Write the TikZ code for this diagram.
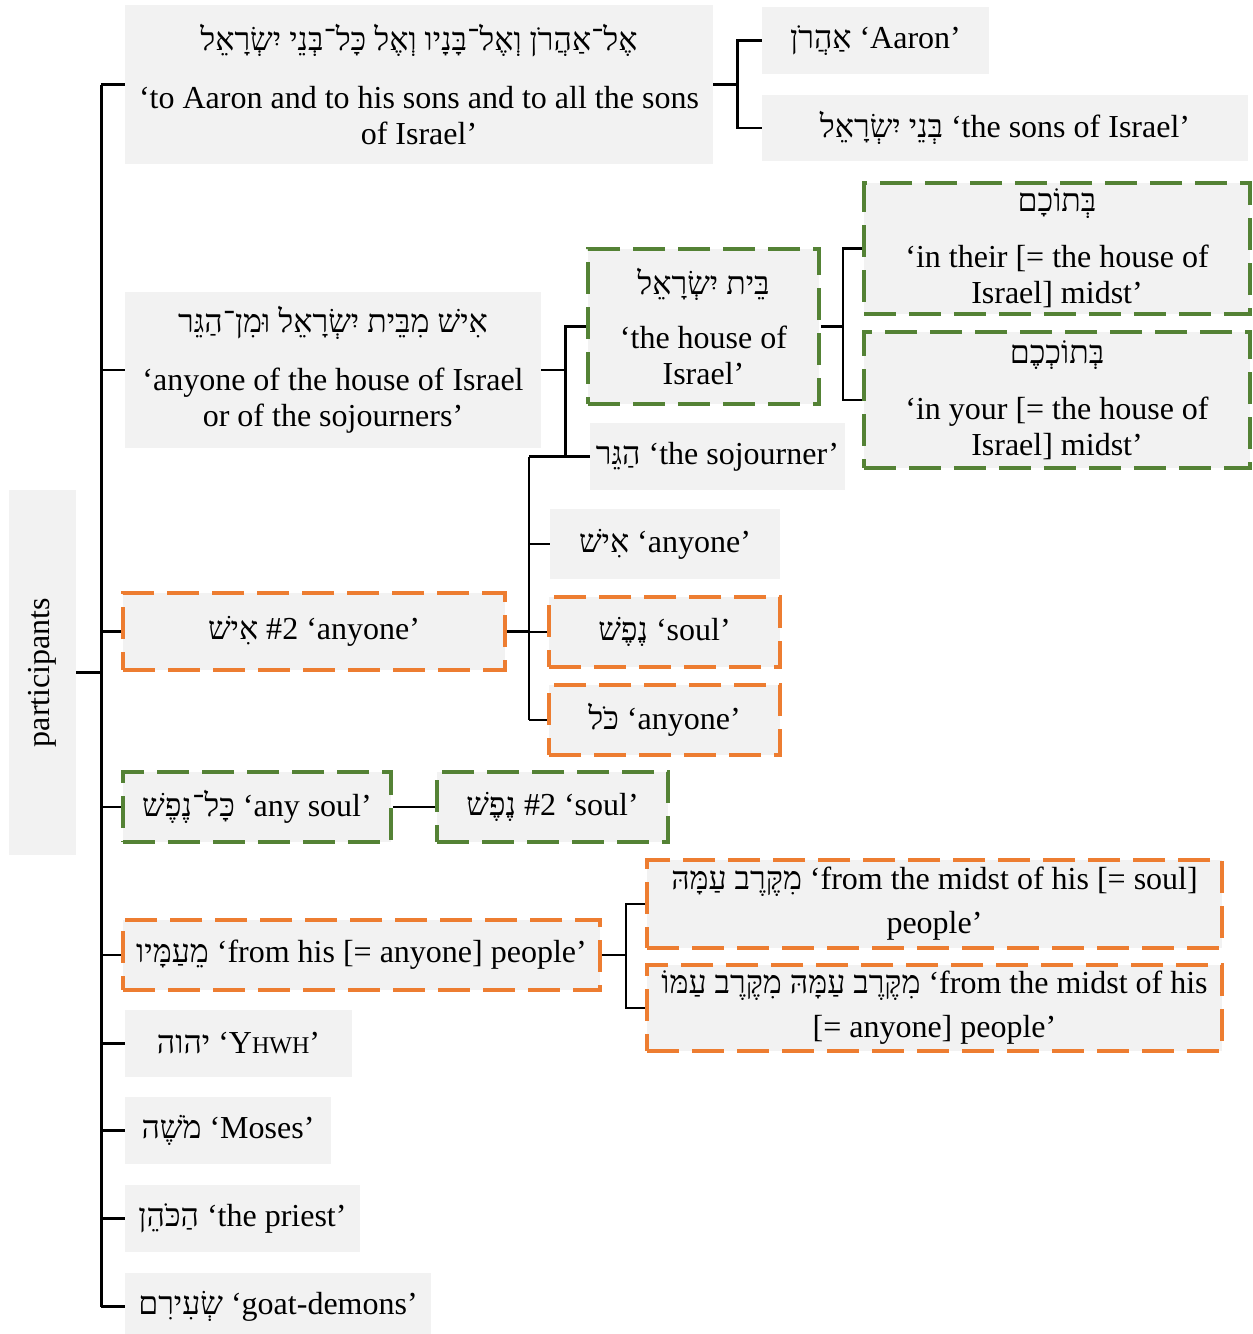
\documentclass[tikz,border=0pt]{standalone}
\usepackage{fontspec}
\usepackage{graphicx}
\setmainfont{Liberation Serif}
\newfontfamily\hebfont[Script=Hebrew]{Liberation Serif}
\TeXXeTstate=1
\newcommand{\hb}[1]{{\hebfont\beginR#1\endR}}
\definecolor{boxgray}{HTML}{F2F2F2}
\definecolor{dgreen}{HTML}{548235}
\definecolor{dorange}{HTML}{ED7D31}
\tikzset{
  entry/.style={fill=boxgray, inner sep=0pt, align=center,
    font=\fontsize{16pt}{18pt}\selectfont},
  sz/.style 2 args={minimum width=#1*0.5pt, minimum height=#2*0.5pt},
  dashbox/.style={entry, draw=#1, line width=1.9pt, dash pattern=on 16pt off 6.5pt},
  conn/.style={line width=1.4pt, black},
}
\begin{document}
\begin{tikzpicture}[x=0.5pt,y=-0.5pt]
\useasboundingbox (0,0) rectangle (1253,1334);

% root
\node[entry, sz={67}{365}] (root) at (42.5,672.5) {\rotatebox{90}{participants}};

% first level
\node[entry, sz={588}{159}] (top) at (419,84.5)
  {\hb{אֶל־אַהֲרֹן וְאֶל־בָּנָיו וְאֶל כָּל־בְּנֵי יִשְׂרָאֵל}\\[11pt]
   ‘to Aaron and to his sons and to all the sons\\of Israel’};
\node[entry, sz={416}{156}] (isrsoj) at (333,370)
  {\hb{אִישׁ מִבֵּית יִשְׂרָאֵל וּמִן־הַגֵּר}\\[11pt]
   ‘anyone of the house of Israel\\or of the sojourners’};
\node[dashbox=dorange, sz={382}{77}] (ish2) at (314,631.5) {\hb{אִישׁ} \#2 ‘anyone’};
\node[dashbox=dgreen, sz={268}{70}] (kolnef) at (257,807) {\hb{כָּל־נֶפֶשׁ} ‘any soul’};
\node[dashbox=dorange, sz={477}{70}] (meamav) at (361.5,955) {\hb{מֵעַמָּיו} ‘from his [= anyone] people’};
\node[entry, sz={227}{67}] (yhwh) at (238.5,1043.5) {\hb{יהוה} ‘Y{\fontsize{12pt}{14pt}\selectfont HWH}’};
\node[entry, sz={206}{67}] (moshe) at (228,1130.5) {\hb{מֹשֶׁה} ‘Moses’};
\node[entry, sz={235}{67}] (kohen) at (242.5,1218.5) {\hb{הַכֹּהֵן} ‘the priest’};
\node[entry, sz={306}{67}] (seirim) at (278,1306.5) {\hb{שְׂעִירִם} ‘goat-demons’};

% second level
\node[entry, sz={227}{67}] (aaron) at (875.5,40.5) {\hb{אַהֲרֹן} ‘Aaron’};
\node[entry, sz={486}{66}] (sons) at (1005,128) {\hb{בְּנֵי יִשְׂרָאֵל} ‘the sons of Israel’};
\node[dashbox=dgreen, sz={231}{155}] (beit) at (703.5,326.5)
  {\hb{בֵּית יִשְׂרָאֵל}\\[9pt]‘the house of\\Israel’};
\node[entry, sz={255}{67}] (soj) at (717.5,456.5) {\hb{הַגֵּר} ‘the sojourner’};
\node[entry, sz={230}{70}] (ish) at (665,544) {\hb{אִישׁ} ‘anyone’};
\node[dashbox=dorange, sz={231}{70}] (nefesh) at (664.5,632) {\hb{נֶפֶשׁ} ‘soul’};
\node[dashbox=dorange, sz={231}{70}] (kol) at (664.5,720) {\hb{כֹּל} ‘anyone’};
\node[dashbox=dgreen, sz={231}{70}] (nefesh2) at (552.5,807) {\hb{נֶפֶשׁ} \#2 ‘soul’};
\node[dashbox=dorange, sz={575}{88}] (qerev1) at (934.5,904)
  {\hb{מִקֶּרֶב עַמָּהּ} ‘from the midst of his [= soul]\\[4pt]people’};
\node[dashbox=dorange, sz={575}{86}] (qerev2) at (934.5,1008)
  {\hb{מִקֶּרֶב עַמָּהּ מִקֶּרֶב עַמּוֹ} ‘from the midst of his\\[4pt]{[}= anyone] people’};

% third level
\node[dashbox=dgreen, sz={386}{131}] (betokham) at (1057,248.5)
  {\hb{בְּתוֹכָם}\\[10pt]‘in their [= the house of\\Israel] midst’};
\node[dashbox=dgreen, sz={386}{136}] (betokhekhem) at (1057,400)
  {\hb{בְּתוֹכְכֶם}\\[10pt]‘in your [= the house of\\Israel] midst’};

% trunk from the root
\draw[conn] (root.east) -- ++(25,0) coordinate (trunk);
\draw[conn] (trunk |- top.west) -- (trunk |- seirim.west);
\foreach \n in {top,isrsoj,ish2,kolnef,meamav,yhwh,moshe,kohen,seirim}
  \draw[conn] (trunk |- \n.west) -- (\n.west);

% brackets
\draw[conn] (top.east) -- ++(24,0) coordinate (tj);
\draw[conn] (aaron.west) -| (tj) |- (sons.west);

\draw[conn] (isrsoj.east) -- ++(24,0) coordinate (bj);
\draw[conn] (beit.west) -| (bj) |- (soj.west);

\draw[conn] (beit.east) -- ++(22,0) coordinate (cj);
\draw[conn] (betokham.west) -| (cj) |- (betokhekhem.west);

\draw[conn] (ish2.east) -- ++(22,0) coordinate (dj);
\draw[conn] (dj |- soj.west) -- (soj.west);
\draw[conn] (dj |- soj.west) -- (dj |- kol.west);
\foreach \n in {ish,nefesh,kol}
  \draw[conn] (dj |- \n.west) -- (\n.west);

\draw[conn] (kolnef.east) -- (nefesh2.west);

\draw[conn] (meamav.east) -- ++(24,0) coordinate (ej);
\draw[conn] (qerev1.west) -| (ej) |- (qerev2.west);
\end{tikzpicture}
\end{document}
